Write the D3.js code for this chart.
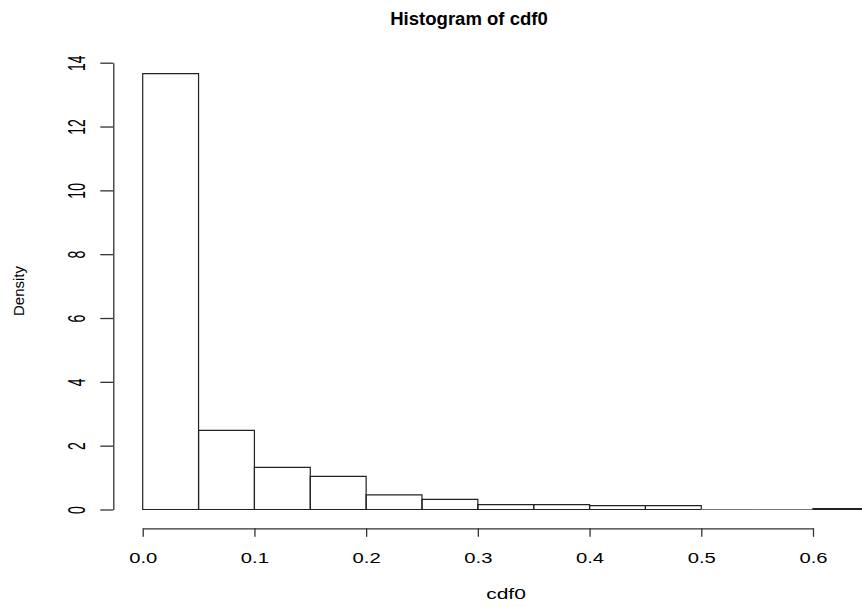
<!DOCTYPE html>
<html>
<head>
<meta charset="utf-8">
<script src="https://cdn.jsdelivr.net/npm/d3@7/dist/d3.min.js"></script>
<style>
  html, body { margin: 0; padding: 0; background: #fff; }
  svg { display: block; }
  text { font-family: "Liberation Sans", Arial, sans-serif; fill: #000; }
</style>
</head>
<body>
<script>
// ---- data ----
const breaks  = [0, 0.05, 0.1, 0.15, 0.2, 0.25, 0.3, 0.35, 0.4, 0.45, 0.5, 0.55, 0.6, 0.65];
const density = [13.66, 2.48, 1.32, 1.04, 0.46, 0.32, 0.15, 0.15, 0.12, 0.12, 0, 0, 0.03];
const xTicks  = [0, 0.1, 0.2, 0.3, 0.4, 0.5, 0.6];
const yTicks  = [0, 2, 4, 6, 8, 10, 12, 14];
const titleText = "Histogram of cdf0";
const xLabel = "cdf0";
const yLabel = "Density";

const W = 862, H = 607;
const svg = d3.select("body").append("svg").attr("width", W).attr("height", H);

const x = d3.scaleLinear().domain([0, 0.6]).range([142.7, 813]);
const y = d3.scaleLinear().domain([0, 14]).range([509.5, 62.7]);

const bins = density.map((d, i) => ({ x0: breaks[i], x1: breaks[i + 1], d }));

// bars (as closed paths so zero-height bins still show as a line)
svg.append("g").selectAll("path").data(bins).join("path")
  .attr("d", b => {
    const p = d3.path();
    p.moveTo(x(b.x0), y(0));
    p.lineTo(x(b.x0), y(b.d));
    p.lineTo(x(b.x1), y(b.d));
    p.lineTo(x(b.x1), y(0));
    p.closePath();
    return p.toString();
  })
  .attr("fill", "none")
  .attr("stroke", b => b.d === 0 ? "#777" : "#222")
  .attr("stroke-width", 1.2);

// x axis
const gx = svg.append("g").attr("transform", "translate(0,528.3)")
  .call(d3.axisBottom(x).tickValues(xTicks).tickFormat(d3.format(".1f")).tickSize(8.5).tickSizeOuter(0));
gx.select(".domain").attr("stroke", "#333").attr("stroke-width", 1.3);
gx.selectAll(".tick line").attr("stroke", "#333").attr("stroke-width", 1.3);
gx.selectAll(".tick text")
  .attr("y", 0).attr("dy", 0)
  .attr("transform", "translate(0,34.5) scale(1.35,1)")
  .attr("text-anchor", "middle")
  .style("font-size", "15px")
  .style("font-family", "'Liberation Sans', Arial, sans-serif")
  .attr("fill", "#000");

// y axis
const gy = svg.append("g").attr("transform", "translate(113.3,0)")
  .call(d3.axisLeft(y).tickValues(yTicks).tickFormat(d3.format("d")).tickSize(13).tickSizeOuter(0));
gy.select(".domain").attr("stroke", "#333").attr("stroke-width", 1.3);
gy.selectAll(".tick line").attr("stroke", "#333").attr("stroke-width", 1.3);
gy.selectAll(".tick text")
  .attr("x", 0).attr("dy", 0)
  .attr("transform", "translate(-28.3,0) scale(1.75,1) rotate(-90)")
  .attr("text-anchor", "middle")
  .style("font-size", "14px")
  .style("font-family", "'Liberation Sans', Arial, sans-serif")
  .attr("fill", "#000");

// title
svg.append("text")
  .attr("transform", "translate(469,25) scale(1.03,1)")
  .attr("text-anchor", "middle")
  .style("font-size", "18px")
  .style("font-weight", "bold")
  .text(titleText);

// x label
svg.append("text")
  .attr("transform", "translate(506,599) scale(1.45,1)")
  .attr("text-anchor", "middle")
  .style("font-size", "14.5px")
  .text(xLabel);

// y label
svg.append("text")
  .attr("transform", "translate(24,291) rotate(-90)")
  .attr("text-anchor", "middle")
  .style("font-size", "15px")
  .text(yLabel);
</script>
</body>
</html>
